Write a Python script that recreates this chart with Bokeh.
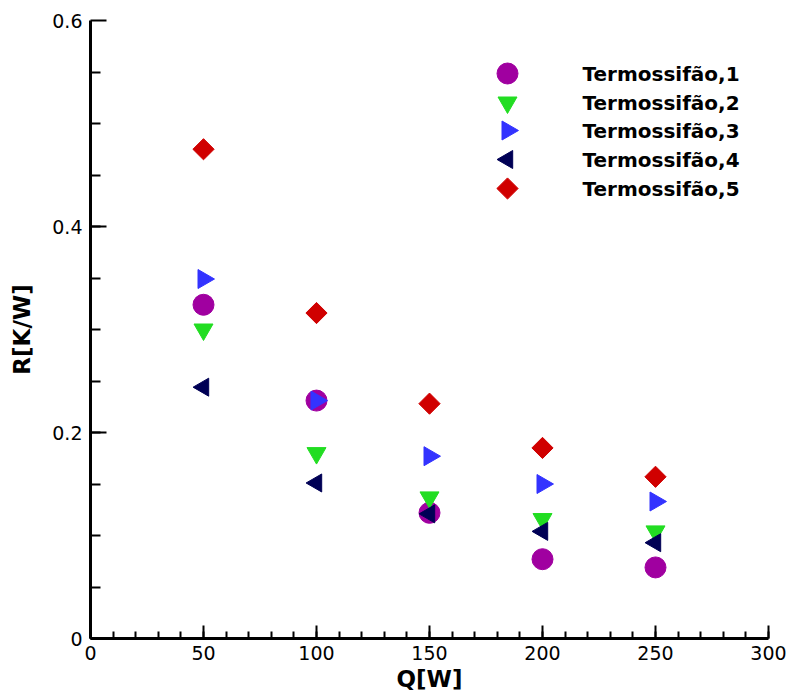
import math
from bokeh.plotting import figure
from bokeh.models import Range1d, FixedTicker
from bokeh.core.properties import value
from bokeh.embed import file_html
from bokeh.resources import INLINE

Q = [50, 100, 150, 200, 250]
T1 = [0.324, 0.231, 0.122, 0.077, 0.069]
T2 = [0.300, 0.180, 0.137, 0.116, 0.104]
T3 = [0.349, 0.231, 0.177, 0.150, 0.133]
T4 = [0.244, 0.151, 0.121, 0.104, 0.093]
T5 = [0.475, 0.316, 0.228, 0.185, 0.157]

labels = ["Termossifão,1", "Termossifão,2", "Termossifão,3", "Termossifão,4", "Termossifão,5"]
x_ticks = [0, 50, 100, 150, 200, 250, 300]
y_ticks = [0, 0.2, 0.4, 0.6]

FONT = "DejaVu Sans"

# frame placement in page pixels
FL, FR, FT, FB = 90, 768, 20, 638

p = figure(width=792, height=698, output_backend="svg", toolbar_location=None,
           x_range=Range1d(0, 300), y_range=Range1d(0, 0.6),
           min_border_left=FL, min_border_right=792 - FR, min_border_top=FT, min_border_bottom=698 - FB)
p.outline_line_color = None
p.xgrid.visible = False
p.ygrid.visible = False
p.background_fill_color = "white"
# pixel-space ranges used only to place the legend box
p.extra_x_ranges = {"px": Range1d(FL, FR)}
p.extra_y_ranges = {"px": Range1d(FB, FT)}

# series styles: (marker, color, size, angle)
styles = [
    ("circle", "#A000A0", 21, 0.0),
    ("inverted_triangle", "#22DD22", 19, 0.0),
    ("triangle", "#3333FF", 19, -math.pi / 2),
    ("triangle", "#000055", 18, math.pi / 2),
    ("square", "#D00000", 15, math.pi / 4),
]
series = [T1, T2, T3, T4, T5]
for vals, (mk, col, sz, ang) in zip(series, styles):
    p.scatter(Q, vals, marker=mk, size=sz, angle=ang, fill_color=col, line_color=col, line_width=1)

# axes
for ax in (p.xaxis[0], p.yaxis[0]):
    ax.axis_line_width = 3
    ax.axis_line_color = "black"
    ax.major_tick_out = 0
    ax.minor_tick_out = 0
    ax.major_tick_line_width = 2
    ax.minor_tick_line_width = 2
    ax.major_tick_line_color = "black"
    ax.minor_tick_line_color = "black"
    ax.major_label_text_font = FONT
    ax.major_label_text_font_size = "19px"
    ax.major_label_text_color = "black"
    ax.axis_label_text_font = FONT
    ax.axis_label_text_font_style = "bold"
    ax.axis_label_text_font_size = "23px"
    ax.axis_label_text_color = "black"

p.xaxis.ticker = FixedTicker(ticks=x_ticks, minor_ticks=list(range(0, 301, 10)))
p.yaxis.ticker = FixedTicker(ticks=y_ticks, minor_ticks=[i * 0.05 for i in range(13)])
p.xaxis.major_tick_in = 13
p.xaxis.minor_tick_in = 7
p.yaxis.major_tick_in = 16
p.yaxis.minor_tick_in = 10
p.xaxis.major_label_standoff = 7
p.yaxis.major_label_standoff = 8
p.yaxis.major_label_overrides = {0: "0", 0.2: "0.2", 0.4: "0.4", 0.6: "0.6"}
p.xaxis.axis_label = "Q[W]"
p.yaxis.axis_label = "R[K/W]"
p.xaxis.axis_label_standoff = 3
p.yaxis.axis_label_standoff = 14

# legend (key symbols keep their rotation, so it is composed in pixel space)
LEG_KEY_X, LEG_TEXT_X = 507, 582
LEG_ROWS = [73, 102, 130, 159, 188]
for (mk, col, sz, ang), cy in zip(styles, LEG_ROWS):
    p.scatter([LEG_KEY_X], [cy], marker=mk, size=sz, angle=ang, fill_color=col, line_color=col,
              line_width=1, x_range_name="px", y_range_name="px")
p.text([LEG_TEXT_X] * len(labels), LEG_ROWS, text=labels, x_range_name="px", y_range_name="px",
       text_baseline="middle", text_align="left", text_font=value(FONT), text_font_style="bold",
       text_font_size="20px", text_color="black")

open("out.html", "w").write(file_html(p, INLINE))
